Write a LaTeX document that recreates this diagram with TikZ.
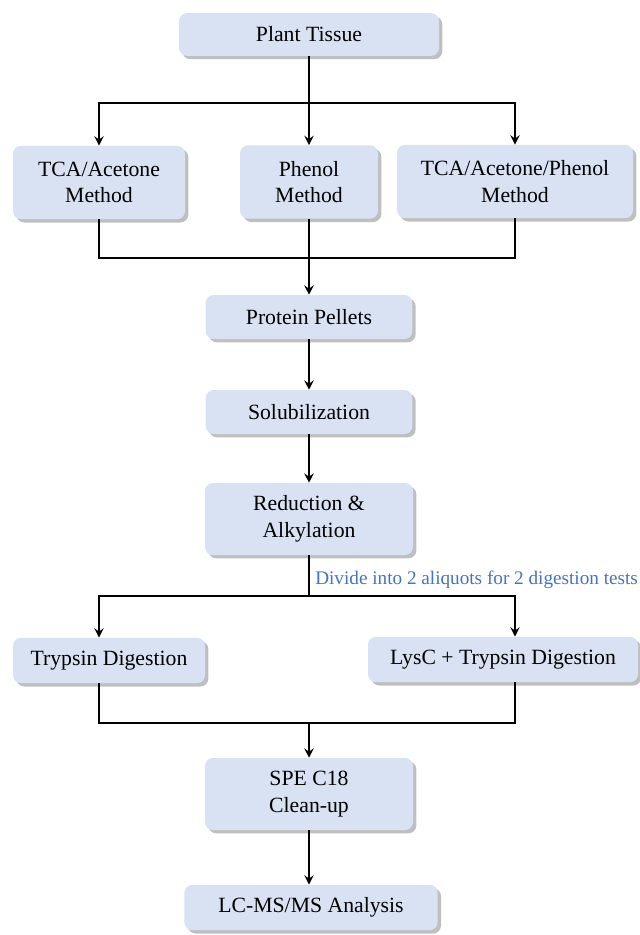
\documentclass[tikz,border=0pt]{standalone}
\usepackage{fontspec}
\setmainfont{Liberation Serif}
\usepackage{tikz}
\usetikzlibrary{arrows.meta,shadows}

\definecolor{boxfill}{RGB}{217,226,243}
\definecolor{notecol}{RGB}{68,114,196}

\tikzset{
    stepbox/.style={fill=boxfill, rounded corners=6pt, align=center,
        inner sep=0pt, font=\fontsize{16.3}{20}\selectfont,
        drop shadow={shadow xshift=2.5pt, shadow yshift=-2.5pt, fill=black!50}},
    link/.style={line width=1.1pt},
    arr/.style={line width=1.1pt, -{Stealth[length=7pt,width=7pt,inset=2.5pt]}},
    note/.style={text=notecol, font=\fontsize{14.4}{17}\selectfont, inner sep=0pt}
}

\begin{document}
\begin{tikzpicture}[x=0.75pt,y=-0.75pt]
            \useasboundingbox (0,0) rectangle (639,935);

            \node[stepbox, minimum width=195pt, minimum height=32pt] (plant) at (309,34.5) {Plant Tissue};

            \node[stepbox, minimum width=129pt, minimum height=55pt] (tca) at (99,182.5) {TCA/Acetone\\Method};
            \node[stepbox, minimum width=103.5pt, minimum height=55pt] (phenol) at (309,182) {Phenol\\Method};
            \node[stepbox, minimum width=177pt, minimum height=55pt] (tap) at (515,181.5) {TCA/Acetone/Phenol\\Method};

            \node[stepbox, minimum width=155pt, minimum height=33pt] (pellets) at (309,317) {Protein Pellets};
            \node[stepbox, minimum width=155pt, minimum height=33pt] (solub) at (309,412) {Solubilization};
            \node[stepbox, minimum width=156pt, minimum height=54pt] (reduct) at (309,519) {Reduction \&\\Alkylation};

            \node[stepbox, minimum width=144pt, minimum height=34pt] (tryp) at (109,660.5) {Trypsin Digestion};
            \node[stepbox, minimum width=202.5pt, minimum height=34pt] (lysc) at (503,659.5) {LysC + Trypsin Digestion};

            \node[stepbox, minimum width=156pt, minimum height=54pt] (spe) at (309,794) {SPE C18\\Clean-up};
            \node[stepbox, minimum width=190pt, minimum height=34pt] (lcms) at (311,907.5) {LC-MS/MS Analysis};

            \node[note, anchor=west] (divide) at (315,580) {Divide into 2 aliquots for 2 digestion tests};

            \coordinate (split1) at (309,103);
            \coordinate (join1) at (309,258);
            \coordinate (split2) at (309,596);
            \coordinate (join2) at (309,723);

            \draw[link] (plant.south) -- (split1);
            \draw[arr] (split1) -| (tca.north);
            \draw[arr] (split1) -- (phenol.north);
            \draw[arr] (split1) -| (tap.north);

            \draw[link] (tca.south) |- (join1);
            \draw[link] (tap.south) |- (join1);
            \draw[arr] (phenol.south) -- (pellets.north);
            \draw[arr] (pellets.south) -- (solub.north);
            \draw[arr] (solub.south) -- (reduct.north);

            \draw[link] (reduct.south) -- (split2);
            \draw[arr] (split2) -| (tca |- tryp.north);
            \draw[arr] (split2) -| (tap |- lysc.north);

            \draw[link] (tca |- tryp.south) |- (join2);
            \draw[link] (tap |- lysc.south) |- (join2);
            \draw[arr] (join2) -- (spe.north);
            \draw[arr] (spe.south) -- (spe.south |- lcms.north);
        \end{tikzpicture}
\end{document}
